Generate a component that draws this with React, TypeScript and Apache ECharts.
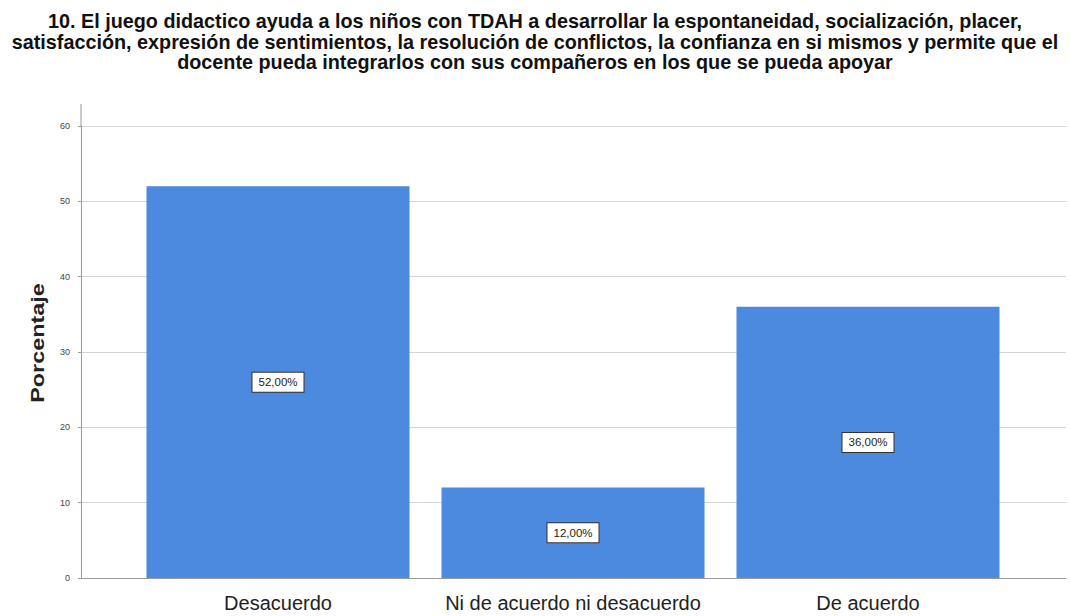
import React, { useEffect, useRef } from "react";
import * as echarts from "echarts";

const categories = ["Desacuerdo", "Ni de acuerdo ni desacuerdo", "De acuerdo"];
const values = [52, 12, 36];
const yTicks = [0, 10, 20, 30, 40, 50, 60];
const yAxisName = "Porcentaje";
const titleText =
  "10. El juego didactico ayuda a los niños con TDAH a desarrollar la espontaneidad, socialización, placer,\nsatisfacción, expresión de sentimientos, la resolución de conflictos, la confianza en si mismos y permite que el\ndocente pueda integrarlos con sus compañeros en los que se pueda apoyar";

export default function App() {
  const ref = useRef<HTMLDivElement>(null);
  useEffect(() => {
    document.body.style.margin = "0";
    const chart = echarts.init(ref.current!, null, { renderer: "svg" });
    const font = "'Liberation Sans', Arial, sans-serif";
    chart.setOption({
      animation: false,
      backgroundColor: "#ffffff",
      title: {
        text: titleText,
        left: "center",
        top: 6,
        textStyle: {
          fontFamily: font,
          fontSize: 19.8,
          fontWeight: "bold",
          lineHeight: 20.5,
          color: "#111",
        },
      },
      graphic: [
        {
          type: "line",
          shape: { x1: 81, y1: 104, x2: 81, y2: 126 },
          style: { stroke: "#9a9a9a", lineWidth: 1 },
        },
        {
          type: "text",
          x: 38,
          y: 343,
          rotation: Math.PI / 2,
          scaleX: 1.3,
          style: {
            text: yAxisName,
            fontFamily: font,
            fontSize: 18,
            fontWeight: "bold",
            fill: "#222",
            align: "center",
            verticalAlign: "middle",
          },
        },
      ],
      grid: [
        { left: 81, right: 4, top: 126, bottom: 38 },
        { left: 130.5, right: 54.5, top: 126, bottom: 38 },
      ],
      xAxis: [
        {
          type: "category",
          gridIndex: 0,
          data: [""],
          axisLine: { show: true, lineStyle: { color: "#9a9a9a" } },
          axisTick: { show: false },
          axisLabel: { show: false },
        },
        {
          type: "category",
          gridIndex: 1,
          data: categories,
          axisLine: { show: false },
          axisTick: { show: false },
          axisLabel: {
            interval: 0,
            fontFamily: font,
            fontSize: 20,
            color: "#222",
            margin: 15,
          },
        },
      ],
      yAxis: [
        {
          type: "value",
          gridIndex: 0,
          min: yTicks[0],
          max: yTicks[yTicks.length - 1],
          interval: 10,
          axisLine: { show: true, lineStyle: { color: "#9a9a9a" } },
          axisTick: { show: true, length: 3, lineStyle: { color: "#9a9a9a" } },
          axisLabel: { fontSize: 9, color: "#444", margin: 11, fontFamily: font },
          splitLine: { show: true, lineStyle: { color: "#d4d4d4" } },
        },
        {
          type: "value",
          gridIndex: 1,
          min: yTicks[0],
          max: yTicks[yTicks.length - 1],
          show: false,
        },
      ],
      series: [
        {
          type: "bar",
          xAxisIndex: 1,
          yAxisIndex: 1,
          data: values,
          barWidth: 263,
          itemStyle: { color: "#4b8ade" },
          label: {
            show: true,
            position: "inside",
            formatter: (p: any) => p.value.toFixed(2).replace(".", ",") + "%",
            fontFamily: font,
            fontSize: 11.5,
            color: "#222",
            backgroundColor: "#ffffff",
            borderColor: "#333",
            borderWidth: 1,
            padding: [4, 6, 3, 6],
          },
        },
      ],
    });
    return () => chart.dispose();
  }, []);
  return (
    <div
      ref={ref}
      style={{ position: "fixed", left: 0, top: 0, width: 1070, height: 616 }}
    />
  );
}
